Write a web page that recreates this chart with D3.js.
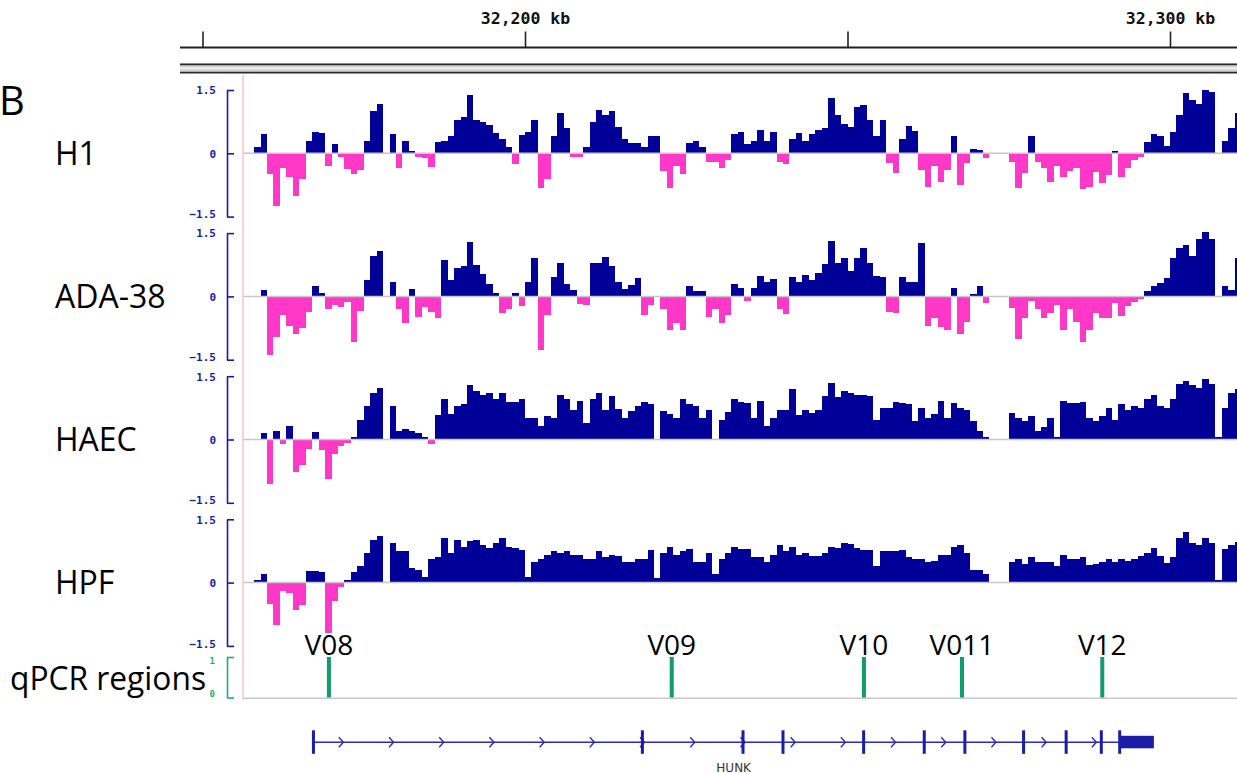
<!DOCTYPE html>
<html><head><meta charset="utf-8">
<script src="https://cdn.jsdelivr.net/npm/d3@7"></script>
<style>
html,body{margin:0;padding:0;background:#fff;}
svg{display:block;}
</style></head><body>
<svg id="chart" width="1237" height="773"></svg>
<script>
// ---------------- data ----------------
const binStartKb = 32156;   // start of first 1-kb bin
const binSizeKb = 1;
const trackNames = ["H1", "ADA-38", "HAEC", "HPF"];
const h1 = [0,0,0.14,0.45,-0.5,-1.25,-0.36,-0.55,-1.0,-0.6,
 0.3,0.5,0.47,-0.3,0.22,-0.08,-0.37,-0.5,-0.4,0.3,
 1.0,1.18,0,0.45,-0.36,0.3,0.05,-0.08,-0.12,-0.32,
 0.26,0.3,0.4,0.8,0.87,1.38,0.8,0.75,0.67,0.47,
 0.35,0.16,-0.25,0.43,0.5,0.79,-0.83,-0.6,0.4,0.95,
 0.6,-0.08,-0.08,0.16,0.75,1.03,0.9,1.0,0.63,0.35,
 0.24,0.25,0.15,0.41,0.4,-0.43,-0.83,-0.3,
 -0.5,0.25,0.3,0.15,-0.21,-0.2,-0.36,-0.16,0.45,0.5,
 0.22,0.3,0.55,0.3,0.5,-0.21,-0.25,0.33,0.47,0.28,
 0.45,0.55,0.6,1.3,0.9,0.7,0.63,1.1,1.15,0.8,
 0.4,0.8,-0.24,-0.47,0.35,0.65,0.54,-0.4,-0.79,-0.3,
 -0.67,-0.4,0.42,-0.75,-0.24,0.1,0.08,-0.1,0,0,
 0,-0.2,-0.83,-0.47,0.4,-0.2,-0.36,-0.67,-0.3,-0.55,
 -0.43,-0.36,-0.85,-0.8,-0.45,-0.71,-0.51,0.05,-0.55,-0.36,
 -0.16,-0.08,0.26,0.46,0.4,0.18,0.5,0.91,1.42,1.26,
 1.18,1.5,1.46,0,0.3,0.6,0.95];
const ada38 = [0,0,0,0.15,-1.4,-0.96,-0.45,-0.7,-0.9,-0.75,
 -0.38,0.25,0.08,-0.31,-0.2,-0.26,-0.14,-1.09,-0.34,0.4,
 0.95,1.07,0,0.33,-0.31,-0.64,0.17,-0.48,-0.26,-0.38,
 -0.5,0.87,0.4,0.67,0.73,1.3,0.75,0.52,0.3,0.08,
 -0.4,-0.3,0.08,-0.22,0.33,0.91,-1.28,-0.44,0.45,0.8,
 0.3,0.15,-0.18,-0.2,0.79,0.8,0.93,0.71,0.35,0.17,
 0.28,0.43,-0.44,-0.2,0,-0.3,-0.8,-0.62,-0.8,0.25,
 0.12,0.13,-0.48,-0.3,-0.64,-0.44,0.29,
 0.2,-0.12,0.2,0.49,0.35,0.41,-0.3,-0.42,0.45,0.35,
 0.5,0.38,0.55,0.77,1.31,0.8,0.9,0.6,0.9,1.15,
 0.8,0.49,0.45,-0.36,-0.4,0.45,0.35,0.33,1.27,-0.69,
 -0.5,-0.72,-0.8,0.2,-0.88,-0.6,0.05,0.24,-0.16,0,
 0,0,-0.27,-1.0,-0.5,-0.1,-0.3,-0.5,-0.4,-0.2,
 -0.8,-0.3,-0.6,-1.08,-0.8,-0.4,-0.5,-0.5,-0.15,-0.46,
 -0.22,-0.14,-0.06,0.12,0.24,0.32,0.43,0.91,1.15,1.22,
 0.95,1.35,1.52,1.35,0,0.25,0.15,0.91];
const haec = [0,0,0,0.15,-1.06,0.19,-0.1,0.31,-0.78,-0.6,
 -0.22,0.18,-0.25,-0.94,-0.35,-0.15,-0.08,0.06,0.47,0.8,
 1.11,1.23,0,0.79,0.2,0.26,0.2,0.15,0.06,-0.1,
 0.59,0.95,0.6,0.8,0.85,1.29,1.15,1.05,1.11,0.95,
 1.1,0.9,0.89,0.95,0.5,0.5,0.31,0.55,0.5,1.05,
 0.95,0.7,0.91,0.4,0.95,1.1,0.71,1.03,0.72,0.5,
 0.67,0.8,0.9,0.85,0,0.67,0.6,0.5,0.95,0.85,
 0.79,0.5,0.7,0,0.47,0.65,0.95,
 0.9,0.87,0.5,0.91,0.31,0.51,0.71,0.7,1.19,0.59,
 0.7,0.62,0.7,1.03,1.35,1.0,1.15,1.1,1.05,1.05,
 1.03,0.47,0.75,0.75,0.9,0.87,0.85,0.43,0.75,0.5,
 0.6,0.91,0.5,0.87,0.75,0.71,0.43,0.19,0.05,0,
 0,0,0.63,0.5,0.43,0.55,0.19,0.3,0.5,0.05,
 0.91,0.87,0.87,0.9,0.51,0.45,0.55,0.75,0.47,0.83,
 0.7,0.79,0.75,0.95,1.05,0.8,0.75,0.95,1.31,1.39,
 1.3,1.23,1.43,1.31,0.05,0.75,1.1,1.19];
const hpf = [0,0,0.05,0.2,-0.5,-1.0,-0.2,-0.24,-0.65,-0.54,
 0.28,0.28,0.25,-1.2,-0.44,-0.1,0.05,0.25,0.4,0.7,
 1.02,1.11,0,0.93,0.75,0.75,0.35,0.3,0.13,0.57,
 0.6,1.06,0.7,1.02,0.85,0.98,1.0,0.9,0.82,0.93,
 1.06,0.85,0.81,0.77,0.13,0.5,0.57,0.65,0.75,0.7,
 0.75,0.65,0.65,0.55,0.55,0.75,0.6,0.65,0.63,0.5,
 0.49,0.55,0.55,0.77,0.1,0.69,0.85,0.65,0.75,0.8,
 0.5,0.49,0.7,0.2,0.55,0.7,0.85,
 0.8,0.8,0.6,0.6,0.5,0.65,0.9,0.75,0.85,0.66,
 0.69,0.62,0.63,0.69,0.85,0.83,0.93,0.92,0.82,0.77,
 0.78,0.4,0.75,0.75,0.74,0.78,0.6,0.57,0.57,0.5,
 0.52,0.65,0.65,0.85,0.9,0.69,0.3,0.3,0.2,0,
 0,0,0.5,0.57,0.45,0.6,0.5,0.5,0.5,0.4,
 0.65,0.57,0.57,0.6,0.42,0.45,0.5,0.55,0.49,0.55,
 0.52,0.55,0.62,0.7,0.81,0.62,0.47,0.6,1.05,1.2,
 0.95,0.9,1.06,0.95,0.05,0.8,0.89,0.97];
const trackValues = [h1, ada38, haec, hpf];
const yTickValues = [-1.5, 0, 1.5];
const rulerTicks = [32150, 32200, 32250, 32300];
const rulerLabels = {32200: "32,200 kb", 32300: "32,300 kb"};
const qpcrNames = ["V08", "V09", "V10", "V011", "V12"];
const qpcrKb = [32169.6, 32222.75, 32252.55, 32267.75, 32289.5];
const geneName = "HUNK";
const geneStartKb = 32167.2, geneEndKb = 32297.5;
const exonKb = [32167.2, 32218.2, 32233.8, 32240.0, 32252.5, 32261.9, 32268.2, 32277.3, 32283.9, 32289.35];
const utrKb = [32292.2, 32297.5];
const panelLetter = "B";
const qpcrTrackName = "qPCR regions";

// ---------------- layout / style ----------------
const W = 1237, H = 773;
const dataLeft = 243.5, dataRight = 1237;
const trackTop0 = 90, trackStep = 143.1, trackH = 126.6;
const BLUE = "#000099", PINK = "#ff38c8", AXIS = "#1a1aa6", GREEN = "#119c6c";
const svg = d3.select("#chart");

const x = d3.scaleLinear().domain([32200, 32300]).range([525, 1170]);

svg.append("defs").append("clipPath").attr("id", "dataClip")
  .append("rect").attr("x", dataLeft).attr("y", 0).attr("width", dataRight - dataLeft).attr("height", H);

// ---- ruler ----
const ruler = svg.append("g").attr("transform", "translate(0,47.5)");
ruler.call(d3.axisTop(x).tickValues(rulerTicks).tickSize(16).tickPadding(8)
  .tickFormat(d => rulerLabels[d] || ""));
ruler.select(".domain").remove();
ruler.selectAll(".tick line").attr("stroke", "#222").attr("stroke-width", 1.6);
ruler.selectAll(".tick text").attr("fill", "#111")
  .style("font-family", "'DejaVu Sans Mono', monospace").style("font-weight", "bold")
  .style("font-size", "16.5px");
svg.append("line").attr("x1", 180).attr("x2", W).attr("y1", 47.5).attr("y2", 47.5)
  .attr("stroke", "#222").attr("stroke-width", 2);
// header separator band
svg.append("rect").attr("x", 180).attr("y", 63.5).attr("width", W - 180).attr("height", 9.5).attr("fill", "#d4d4d4");
svg.append("line").attr("x1", 180).attr("x2", W).attr("y1", 68.3).attr("y2", 68.3).attr("stroke", "#eeeeee").attr("stroke-width", 2);
svg.append("line").attr("x1", 180).attr("x2", W).attr("y1", 64.3).attr("y2", 64.3).attr("stroke", "#2a2a2a").attr("stroke-width", 1.8);
svg.append("line").attr("x1", 180).attr("x2", W).attr("y1", 72.7).attr("y2", 72.7).attr("stroke", "#2a2a2a").attr("stroke-width", 1.8);

// red vertical line at left edge of data
svg.append("line").attr("x1", dataLeft - 0.5).attr("x2", dataLeft - 0.5).attr("y1", 75).attr("y2", 700)
  .attr("stroke", "#f6c4c4").attr("stroke-width", 1.5);

// ---- signal tracks ----
trackValues.forEach((vals, t) => {
  const top = trackTop0 + t * trackStep;
  const y = d3.scaleLinear().domain([-1.5, 1.5]).range([top + trackH, top]);
  const bins = vals.map((v, i) => ({kb: binStartKb + i * binSizeKb, v})).filter(d => d.v !== 0);
  const g = svg.append("g").attr("clip-path", "url(#dataClip)");
  g.selectAll("rect").data(bins).enter().append("rect")
    .attr("x", d => x(d.kb))
    .attr("width", d => x(d.kb + binSizeKb) - x(d.kb))
    .attr("y", d => d.v > 0 ? y(d.v) : y(0))
    .attr("height", d => Math.abs(y(d.v) - y(0)))
    .attr("fill", d => d.v > 0 ? BLUE : PINK)
    .attr("shape-rendering", "crispEdges");
  svg.append("line").attr("x1", dataLeft).attr("x2", dataRight).attr("y1", y(0)).attr("y2", y(0))
    .attr("stroke", "#c8c8c8").attr("stroke-width", 1.5);
  // IGV style data-range bracket
  const ax = svg.append("g").attr("transform", "translate(227,0)");
  ax.call(d3.axisRight(y).tickValues(yTickValues).tickSize(7).tickSizeOuter(0)
    .tickFormat(d => d === 0 ? "0" : d3.format(".1f")(d)));
  ax.select(".domain").attr("stroke", AXIS).attr("stroke-width", 1.6);
  ax.selectAll(".tick line").attr("stroke", AXIS).attr("stroke-width", 1.6);
  ax.selectAll(".tick text").attr("x", -11).attr("text-anchor", "end")
    .attr("dy", d => d === -1.5 ? "0.1em" : "0.35em")
    .attr("fill", AXIS).style("font-family", "'DejaVu Sans Mono', monospace")
    .style("font-weight", "bold").style("font-size", "11px");
  // track name
  svg.append("text").attr("x", 55).attr("y", y(0) + 11.5).text(trackNames[t])
    .attr("fill", "#000").style("font-family", "'Open Sans', sans-serif").style("font-size", "32px");
});

// ---- qPCR track ----
const yq = d3.scaleLinear().domain([0, 1]).range([697.5, 657]);
svg.append("line").attr("x1", dataLeft).attr("x2", dataRight).attr("y1", 698.3).attr("y2", 698.3)
  .attr("stroke", "#c8c8c8").attr("stroke-width", 1.5);
svg.append("g").selectAll("rect").data(qpcrKb).enter().append("rect")
  .attr("x", d => x(d) - 2).attr("width", 4)
  .attr("y", yq(1)).attr("height", yq(0) - yq(1)).attr("fill", GREEN);
svg.append("g").selectAll("text").data(qpcrNames).enter().append("text")
  .attr("x", (d, i) => x(qpcrKb[i])).attr("y", 655).attr("text-anchor", "middle")
  .text(d => d).attr("fill", "#000")
  .style("font-family", "'Open Sans', sans-serif").style("font-size", "28px");
const qax = svg.append("g").attr("transform", "translate(227,0)");
qax.call(d3.axisRight(yq).tickValues([0, 1]).tickSize(7).tickSizeOuter(0).tickFormat(d3.format("d")));
qax.select(".domain").attr("stroke", "#22aa77").attr("stroke-width", 1.6);
qax.selectAll(".tick line").attr("stroke", "#22aa77").attr("stroke-width", 1.6);
qax.selectAll(".tick text").attr("x", -12).attr("text-anchor", "end")
  .attr("dy", (d) => d === 1 ? "0.75em" : "-0.15em")
  .attr("fill", "#22aa77").style("font-family", "'DejaVu Sans Mono', monospace")
  .style("font-weight", "bold").style("font-size", "9px");
svg.append("text").attr("x", 10).attr("y", 690).text(qpcrTrackName)
  .attr("textLength", 196).attr("lengthAdjust", "spacingAndGlyphs")
  .attr("fill", "#000").style("font-family", "'Open Sans', sans-serif").style("font-size", "32px");

// panel letter
svg.append("text").attr("x", -1).attr("y", 115).text(panelLetter)
  .attr("fill", "#000").style("font-family", "'Open Sans', sans-serif").style("font-size", "40px");

// ---- gene track ----
const GENE = "#1c1ca6";
const gy = 742.3;
const gx0 = x(geneStartKb), gx1 = x(geneEndKb);
svg.append("line").attr("x1", gx0).attr("x2", gx1).attr("y1", gy).attr("y2", gy)
  .attr("stroke", "#2d2db4").attr("stroke-width", 1.6);
// strand chevrons every ~50 px
const chev = d3.range(gx0 + 28.4, gx1 - 40, 50.2);
svg.append("g").selectAll("path").data(chev).enter().append("path")
  .attr("d", p => `M${p - 3},${gy - 5} L${p + 1.5},${gy} L${p - 3},${gy + 5}`)
  .attr("fill", "none").attr("stroke", "#2d2db4").attr("stroke-width", 1.4);
svg.append("g").selectAll("rect").data(exonKb).enter().append("rect")
  .attr("x", d => x(d) - 1.5).attr("width", 3).attr("y", gy - 12).attr("height", 23.5).attr("fill", GENE);
svg.append("rect").attr("x", x(utrKb[0])).attr("width", x(utrKb[1]) - x(utrKb[0]))
  .attr("y", gy - 6.5).attr("height", 12.5).attr("fill", GENE);
svg.append("rect").attr("x", x(utrKb[0]) - 1.5).attr("width", 3).attr("y", gy - 12).attr("height", 23.5).attr("fill", GENE);
svg.append("text").attr("x", (gx0 + gx1) / 2).attr("y", 771.5).attr("text-anchor", "middle")
  .text(geneName).attr("fill", "#333")
  .style("font-family", "'DejaVu Sans', sans-serif").style("font-size", "12px");
</script>
</body></html>
